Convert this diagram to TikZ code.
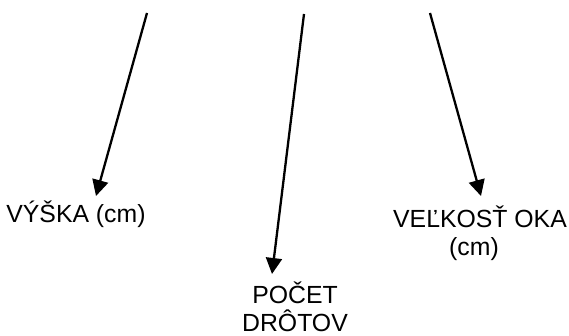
\documentclass[tikz,border=0pt]{standalone}
\usepackage{fontspec}
\setmainfont{Liberation Sans}
\usetikzlibrary{arrows.meta}
\tikzstyle{pointer}=[line width=1.15pt, -{Triangle[length=8pt, width=8pt]}]
\tikzstyle{heading}=[inner sep=0pt, anchor=base, align=center,
  font=\fontsize{12.4}{14}\selectfont]

\begin{document}
\begin{tikzpicture}[x=0.5pt, y=-0.5pt]
  \useasboundingbox (0, 0) rectangle (569, 336);
  \coordinate (height top) at (147, 13);
  \coordinate (height tip) at (96, 196);
  \coordinate (wires top) at (304, 14);
  \coordinate (wires tip) at (272, 274);
  \coordinate (mesh top) at (430, 13);
  \coordinate (mesh tip) at (481, 196);
  % multi-line nodes sit on the baseline of their last line
  \node[heading] (height) at (76, 223) {VÝŠKA (cm)};
  \node[heading] (wires) at (295, 332) {POČET\\DRÔTOV};
  \node[heading] (mesh) at (480, 256) {VEĽKOSŤ OKA\\(cm)\hspace*{6pt}};
  \draw[pointer] (height top) -- (height tip);
  \draw[pointer] (wires top) -- (wires tip);
  \draw[pointer] (mesh top) -- (mesh tip);
\end{tikzpicture}
\end{document}
